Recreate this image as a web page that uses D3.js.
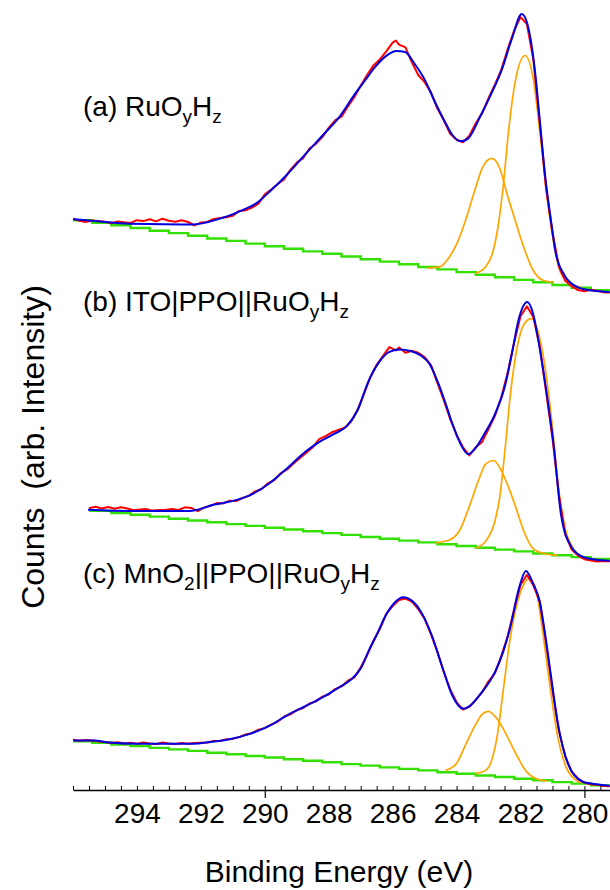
<!DOCTYPE html>
<html><head><meta charset="utf-8">
<script src="https://cdn.jsdelivr.net/npm/d3@7"></script>
<style>html,body{margin:0;padding:0;background:#fff;} svg{display:block;font-family:"Liberation Sans",Arial,Helvetica,sans-serif;}</style>
</head><body><svg id="chart" width="610" height="890"></svg>
<script>
// ---- data: [binding energy (eV), counts (arb.)] ----
const energyTicks = [294, 292, 290, 288, 286, 284, 282, 280];
const majorTicks = [290, 280];
const xTitle = "Binding Energy (eV)";
const yTitle = "Counts  (arb. Intensity)";

// Panel (a) RuOyHz
const rawA = [[296.0,27.1],[295.8,26.4],[295.6,26.0],[295.4,26.5],[295.2,26.3],[295.0,26.1],[294.8,25.6],[294.6,26.2],[294.4,25.9],[294.2,25.7],[294.0,26.6],[293.8,26.3],[293.6,26.9],[293.4,26.2],[293.2,27.1],[293.0,26.4],[292.8,26.1],[292.6,26.6],[292.4,26.0],[292.2,24.9],[292.0,25.8],[291.8,26.0],[291.6,27.0],[291.4,27.3],[291.2,27.6],[291.0,28.1],[290.8,29.7],[290.6,29.9],[290.4,30.8],[290.2,32.1],[290.0,35.2],[289.8,36.8],[289.6,38.6],[289.4,40.2],[289.2,43.4],[289.0,45.8],[288.8,47.3],[288.6,50.5],[288.4,52.1],[288.2,54.3],[288.0,57.4],[287.8,59.9],[287.6,61.1],[287.4,64.5],[287.2,67.6],[287.0,71.4],[286.8,75.0],[286.6,78.2],[286.4,80.2],[286.2,82.9],[286.0,85.8],[285.9,86.5],[285.8,85.1],[285.6,84.2],[285.4,79.3],[285.2,75.0],[285.0,72.6],[284.8,69.2],[284.6,63.8],[284.4,59.9],[284.2,55.4],[284.0,53.4],[283.8,52.6],[283.6,54.8],[283.4,58.9],[283.2,62.3],[283.0,67.3],[282.8,71.8],[282.6,76.8],[282.4,83.6],[282.2,89.8],[282.0,94.3],[281.8,92.0],[281.6,80.3],[281.4,59.2],[281.2,37.1],[281.0,22.5],[280.8,11.2],[280.6,6.4],[280.4,4.6],[280.2,3.3],[280.0,2.9],[279.8,3.4],[279.6,3.1],[279.4,2.6],[279.2,2.5]];
const fitA = [[295.99,26.9],[295.31,26.3],[294.22,25.4],[292.24,25.2],[291.47,26.9],[290.71,29.9],[290.27,32.2],[289.83,36.3],[289.28,42.1],[288.73,48.6],[288.18,55.0],[287.64,61.4],[287.2,68.4],[286.87,73.1],[286.54,77.8],[286.21,81.3],[285.88,83.0],[285.61,82.7],[285.33,79.0],[285.01,73.7],[284.68,66.1],[284.35,59.1],[284.13,55.0],[283.86,52.9],[283.64,53.8],[283.25,61.4],[282.93,68.4],[282.59,76.6],[282.27,87.1],[281.96,95.3],[281.78,91.8],[281.55,76.6],[281.39,59.1],[281.23,41.5],[281.06,27.5],[280.9,15.8],[280.62,8.2],[280.29,4.7],[279.97,3.5],[279.22,2.7]];
const bgA = [[296.0,26.6],[295.4,25.7],[294.8,24.9],[294.2,24.0],[293.6,23.1],[293.0,22.3],[292.4,21.4],[291.8,20.5],[291.2,19.7],[290.6,18.8],[290.0,17.9],[289.4,17.1],[288.8,16.2],[288.2,15.4],[287.6,14.5],[287.0,13.6],[286.4,12.8],[285.8,11.9],[285.2,11.0],[284.6,10.2],[284.0,9.3],[283.4,8.4],[282.8,7.6],[282.2,6.7],[281.6,5.9],[281.0,5.0],[280.4,4.1],[279.8,3.3],[279.2,2.4]];
const comp1A = [[284.9,10.6],[284.51,11.1],[284.24,14.1],[283.97,19.3],[283.69,27.5],[283.42,36.9],[283.2,43.9],[282.9,47.2],[282.65,43.9],[282.43,35.7],[282.16,26.3],[281.88,17.0],[281.61,10.0],[281.28,6.5],[280.95,5.9]];
const comp2A = [[283.42,8.8],[283.09,11.1],[282.87,15.8],[282.71,24.0],[282.54,38.0],[282.38,55.6],[282.16,73.1],[281.86,81.5],[281.61,74.3],[281.39,55.6],[281.17,34.5],[280.95,18.2],[280.73,8.8],[280.4,5.3],[280.07,4.1]];

// Panel (b) ITO|PPO||RuOyHz
const rawB = [[295.5,20.6],[295.3,21.1],[295.1,20.5],[294.9,21.0],[294.7,20.4],[294.5,20.9],[294.3,20.5],[294.1,19.9],[293.9,20.2],[293.7,20.3],[293.5,19.8],[293.3,20.0],[293.1,20.1],[292.9,20.3],[292.7,20.0],[292.5,20.9],[292.3,20.7],[292.1,19.6],[291.9,20.8],[291.7,21.4],[291.5,22.3],[291.3,22.2],[291.1,23.1],[290.9,23.0],[290.7,24.0],[290.5,24.7],[290.3,26.2],[290.1,27.0],[289.9,28.9],[289.7,30.0],[289.5,32.3],[289.3,33.5],[289.1,35.5],[288.9,37.3],[288.7,39.1],[288.5,40.9],[288.3,43.6],[288.1,44.6],[287.9,45.9],[287.7,46.7],[287.5,47.4],[287.3,49.5],[287.1,53.3],[286.9,58.7],[286.7,64.2],[286.5,68.4],[286.3,71.4],[286.1,74.3],[285.9,73.2],[285.8,74.2],[285.6,72.4],[285.4,73.1],[285.2,72.4],[285.0,71.0],[284.8,68.3],[284.6,62.4],[284.4,56.6],[284.2,50.4],[284.0,45.0],[283.8,40.9],[283.6,38.2],[283.4,40.9],[283.2,42.7],[283.0,47.0],[282.8,51.4],[282.6,57.6],[282.4,65.8],[282.2,75.8],[282.0,84.6],[281.8,87.9],[281.6,84.3],[281.4,74.6],[281.2,59.5],[281.0,44.0],[280.8,25.1],[280.6,11.9],[280.4,6.8],[280.2,4.8],[280.0,3.6],[279.8,3.2],[279.6,2.8],[279.4,3.0],[279.2,2.9]];
const fitB = [[295.53,20.1],[294.21,19.7],[292.35,19.7],[291.58,21.8],[290.93,23.2],[290.49,24.8],[289.83,29.1],[289.28,34.1],[288.73,39.4],[288.29,42.7],[287.86,45.2],[287.42,48.1],[287.09,53.4],[286.76,62.8],[286.43,69.2],[286.1,72.7],[285.77,73.5],[285.44,73.0],[285.12,71.5],[284.84,68.6],[284.57,62.2],[284.35,55.7],[284.13,48.7],[283.86,41.7],[283.64,38.6],[283.42,40.5],[283.14,45.2],[282.81,51.7],[282.48,61.6],[282.27,72.1],[282.05,83.8],[281.79,89.3],[281.61,85.6],[281.39,73.3],[281.17,58.1],[280.95,40.5],[280.73,18.3],[280.4,7.6],[280.07,4.5],[279.63,3.4],[279.22,3.1]];
const bgB = [[295.5,19.7],[294.8,19.0],[294.2,18.4],[293.6,17.8],[293.0,17.1],[292.4,16.5],[291.8,15.9],[291.2,15.3],[290.6,14.7],[290.0,14.1],[289.4,13.5],[288.8,12.9],[288.2,12.3],[287.6,11.7],[287.0,11.0],[286.4,10.4],[285.8,9.8],[285.2,9.2],[284.6,8.6],[284.0,8.0],[283.4,7.4],[282.8,6.8],[282.2,6.2],[281.6,5.5],[281.0,4.9],[280.4,4.3],[279.8,3.7],[279.2,3.1]];
const comp1B = [[284.68,9.0],[284.25,9.9],[283.91,13.1],[283.58,21.8],[283.31,30.0],[283.09,35.3],[282.84,36.5],[282.59,32.9],[282.38,27.7],[282.16,21.3],[281.88,12.5],[281.61,7.2],[281.28,5.5],[280.84,4.9]];
const comp2B = [[283.42,7.2],[283.09,9.6],[282.81,16.0],[282.65,24.2],[282.48,40.5],[282.32,58.1],[282.1,74.5],[281.88,82.1],[281.66,83.8],[281.44,79.1],[281.23,67.4],[281.0,47.6],[280.84,30.0],[280.62,14.8],[280.35,7.2],[280.07,4.3]];

// Panel (c) MnO2||PPO||RuOyHz
const rawC = [[296.0,18.4],[295.8,18.1],[295.6,18.3],[295.4,18.2],[295.2,17.8],[295.0,17.7],[294.8,17.3],[294.6,17.6],[294.4,17.2],[294.2,17.4],[294.0,17.1],[293.8,17.5],[293.6,17.2],[293.4,17.0],[293.2,17.5],[293.0,17.2],[292.8,17.0],[292.6,17.3],[292.4,17.1],[292.2,17.3],[292.0,17.4],[291.8,17.5],[291.6,18.0],[291.4,18.0],[291.2,18.6],[291.0,18.7],[290.8,19.3],[290.6,20.2],[290.4,20.6],[290.2,21.8],[290.0,22.3],[289.8,23.5],[289.6,24.4],[289.4,26.1],[289.2,26.9],[289.0,28.3],[288.8,29.0],[288.6,30.5],[288.4,31.2],[288.2,32.8],[288.0,33.5],[287.8,35.3],[287.6,36.2],[287.4,38.1],[287.2,39.2],[287.0,42.5],[286.8,46.6],[286.6,51.4],[286.4,55.3],[286.2,60.4],[286.0,63.0],[285.8,65.0],[285.6,65.5],[285.4,64.5],[285.2,62.0],[285.0,58.8],[284.8,53.5],[284.6,47.8],[284.4,41.0],[284.2,35.2],[284.0,30.9],[283.8,28.5],[283.6,29.4],[283.4,31.7],[283.2,34.3],[283.0,37.9],[282.8,40.6],[282.6,46.3],[282.4,52.9],[282.2,61.8],[282.0,70.0],[281.8,73.4],[281.6,69.9],[281.4,64.6],[281.2,50.6],[281.0,35.0],[280.8,21.4],[280.6,12.9],[280.4,7.8],[280.2,5.5],[280.0,4.1],[279.8,3.6],[279.6,3.4],[279.4,3.0],[279.2,2.9]];
const fitC = [[295.99,18.2],[295.31,18.2],[294.98,17.6],[293.99,17.1],[292.24,17.1],[291.69,17.7],[291.14,18.5],[290.49,20.3],[289.83,23.2],[289.28,26.7],[288.73,29.6],[288.18,32.6],[287.64,36.1],[287.31,38.4],[286.98,42.5],[286.76,47.8],[286.49,53.6],[286.21,60.0],[285.94,64.1],[285.67,65.9],[285.39,64.7],[285.12,61.2],[284.79,53.6],[284.46,43.1],[284.13,33.1],[283.8,28.8],[283.53,30.2],[283.25,33.7],[282.81,40.7],[282.54,47.8],[282.32,55.9],[282.05,68.8],[281.83,74.7],[281.61,70.6],[281.39,64.1],[281.23,53.6],[281.06,40.7],[280.84,24.4],[280.51,10.3],[280.07,4.5],[279.63,3.6],[279.22,3.1]];
const bgC = [[296.0,17.9],[295.4,17.4],[294.8,16.8],[294.2,16.3],[293.6,15.7],[293.0,15.2],[292.4,14.7],[291.8,14.1],[291.2,13.6],[290.6,13.0],[290.0,12.5],[289.4,11.9],[288.8,11.4],[288.2,10.9],[287.6,10.3],[287.0,9.8],[286.4,9.2],[285.8,8.7],[285.2,8.2],[284.6,7.6],[284.0,7.1],[283.4,6.5],[282.8,6.0],[282.2,5.4],[281.6,4.9],[281.0,4.3],[280.4,3.8],[279.8,3.2],[279.2,2.7]];
const comp1C = [[284.35,8.2],[284.02,10.3],[283.69,17.4],[283.42,23.2],[283.2,26.9],[283.01,27.9],[282.76,25.8],[282.48,20.9],[282.15,13.9],[281.83,8.0],[281.5,5.4],[281.17,4.7]];
const comp2C = [[283.42,7.1],[283.09,8.2],[282.87,12.7],[282.71,20.9],[282.54,34.9],[282.32,52.4],[282.1,64.1],[281.88,70.6],[281.72,72.1],[281.5,67.6],[281.28,52.4],[281.06,34.9],[280.84,19.7],[280.57,9.2],[280.29,5.1],[280.07,3.9]];

const labelA = [{t:"(a) RuO"},{t:"y",sub:true},{t:"H"},{t:"z",sub:true}];
const labelB = [{t:"(b) ITO|PPO||RuO"},{t:"y",sub:true},{t:"H"},{t:"z",sub:true}];
const labelC = [{t:"(c) MnO"},{t:"2",sub:true},{t:"||PPO||RuO"},{t:"y",sub:true},{t:"H"},{t:"z",sub:true}];

// ---- layout ----
const W = 610, H = 890;
const axisY = 790;
const svg = d3.select("#chart");
const x = d3.scaleLinear().domain([296, 279.2]).range([73, 610]);

const panels = [
  {raw: rawA, fit: fitA, bg: bgA, c1: comp1A, c2: comp2A, label: labelA, bottom: 300, labelY: 116},
  {raw: rawB, fit: fitB, bg: bgB, c1: comp1B, c2: comp2B, label: labelB, bottom: 570, labelY: 311},
  {raw: rawC, fit: fitC, bg: bgC, c1: comp1C, c2: comp2C, label: labelC, bottom: 795, labelY: 583}
];

svg.append("defs").append("clipPath").attr("id","plotclip")
  .append("rect").attr("x",73).attr("y",0).attr("width",W-73).attr("height",axisY);

const plot = svg.append("g").attr("clip-path","url(#plotclip)");

panels.forEach(p => {
  const y = d3.scaleLinear().domain([0, 100]).range([p.bottom, p.bottom - 300]);
  const smooth = d3.line().x(d => x(d[0])).y(d => y(d[1])).curve(d3.curveMonotoneX);
  const lin = d3.line().x(d => x(d[0])).y(d => y(d[1]));
  const step = d3.line().x(d => x(d[0])).y(d => y(d[1])).curve(d3.curveStepAfter);
  const g = plot.append("g");
  g.append("path").attr("d", step(p.bg)).attr("fill","none").attr("stroke","#33e000").attr("stroke-width",2.4);
  g.append("path").attr("d", smooth(p.c1)).attr("fill","none").attr("stroke","#ffa500").attr("stroke-width",1.7);
  g.append("path").attr("d", smooth(p.c2)).attr("fill","none").attr("stroke","#ffa500").attr("stroke-width",1.7);
  g.append("path").attr("d", lin(p.raw)).attr("fill","none").attr("stroke","#ff0000").attr("stroke-width",2).attr("stroke-linejoin","round");
  g.append("path").attr("d", smooth(p.fit)).attr("fill","none").attr("stroke","#0000e0").attr("stroke-width",2).attr("stroke-linejoin","round");

  const t = svg.append("text").attr("x", 83).attr("y", p.labelY).attr("font-size", 28).attr("fill","#000");
  let shifted = false;
  p.label.forEach(part => {
    const ts = t.append("tspan").text(part.t);
    if (part.sub) {
      ts.attr("font-size", 19).attr("dy", shifted ? 0 : 7);
      shifted = true;
    } else if (shifted) {
      ts.attr("dy", -7);
      shifted = false;
    }
  });
});

// ---- x axis ----
const minor = d3.range(296, 279.2, -0.5);
const axG = svg.append("g").attr("transform", `translate(0,${axisY})`);
axG.call(d3.axisBottom(x).tickValues(minor).tickSize(-4).tickSizeOuter(0).tickFormat(""));
axG.select(".domain").attr("stroke","#000").attr("stroke-width",1.6);
axG.selectAll(".tick line").attr("stroke","#000").attr("stroke-width",1);

const majG = svg.append("g").attr("transform", `translate(0,${axisY})`);
majG.call(d3.axisBottom(x).tickValues(majorTicks).tickSize(8).tickFormat(""));
majG.select(".domain").remove();
majG.selectAll(".tick line").attr("stroke","#000").attr("stroke-width",1.2);

const labG = svg.append("g").attr("transform", `translate(0,${axisY})`);
labG.call(d3.axisBottom(x).tickValues(energyTicks).tickSize(0).tickPadding(13).tickFormat(d3.format("d")));
labG.select(".domain").remove();
labG.selectAll(".tick text").attr("font-size", 28).attr("font-family", "'Liberation Sans', Arial, sans-serif").attr("fill","#000");

// ---- titles ----
svg.append("text").attr("x", 339).attr("y", 882).attr("text-anchor","middle")
  .attr("font-size", 30).attr("fill","#000").text(xTitle);

svg.append("text").attr("transform","translate(44,447) rotate(-90)")
  .attr("text-anchor","middle").attr("font-size", 32).attr("fill","#000")
  .style("white-space","pre").text(yTitle);
</script></body></html>
